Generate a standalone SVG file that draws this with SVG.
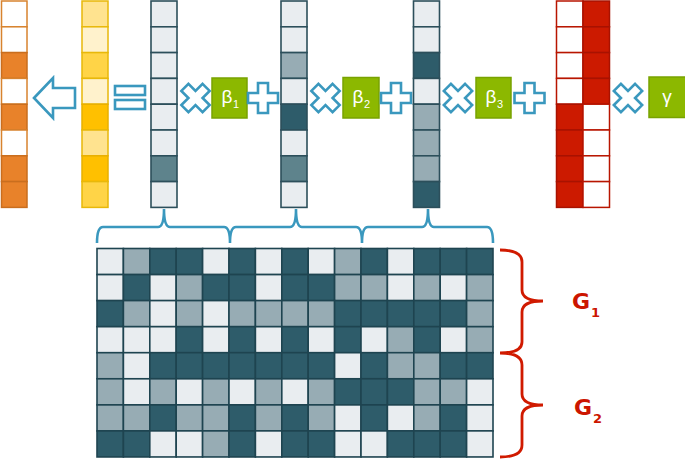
<svg xmlns="http://www.w3.org/2000/svg" width="685" height="461" viewBox="0 0 685 461">
<style>
.sym{fill:#fff;stroke:#3A98BE;stroke-width:2.6;stroke-linejoin:miter}
.br{fill:none;stroke:#3A98BE;stroke-width:2.6}
.rbr{fill:none;stroke:#D01A00;stroke-width:2.8}
.ow{fill:#fff;stroke:#D8832E;stroke-width:1.5}
.oo{fill:#E8822A;stroke:#C96E1E;stroke-width:1.5}
.y0{fill:#FFF2CC;stroke:#E8B80A;stroke-width:1.5}
.y1{fill:#FFE38F;stroke:#E8B80A;stroke-width:1.5}
.y2{fill:#FFD447;stroke:#E8B80A;stroke-width:1.5}
.y3{fill:#FFC000;stroke:#E8B000;stroke-width:1.5}
.vL{fill:#E9EDF0;stroke:#2C4F5B;stroke-width:1.6}
.vM{fill:#97ACB4;stroke:#2C4F5B;stroke-width:1.6}
.vD{fill:#2E5C6A;stroke:#2C4F5B;stroke-width:1.6}
.vX{fill:#5E838C;stroke:#2C4F5B;stroke-width:1.6}
.rw{fill:#fff;stroke:#B81500;stroke-width:1.5}
.rr{fill:#CC1A00;stroke:#A81200;stroke-width:1.5}
.L{fill:#E9EDF0;stroke:#1E4450;stroke-width:1.6}
.M{fill:#97ACB4;stroke:#1E4450;stroke-width:1.6}
.D{fill:#2E5C6A;stroke:#1E4450;stroke-width:1.6}
.gb{fill:#8CB800;stroke:#78A200;stroke-width:1.5}
.gt{fill:#fff;font-family:'Liberation Sans',Arial,sans-serif;font-size:19px}
.gs{fill:#fff;font-family:'Liberation Sans',Arial,sans-serif;font-size:11px}
.lab{fill:#CC1500;font-family:'DejaVu Sans',Verdana,sans-serif;font-weight:bold;font-size:22px}
.labs{fill:#CC1500;font-family:'DejaVu Sans',Verdana,sans-serif;font-weight:bold;font-size:13px}
</style>
<defs>
<path id="plus" d="M-5,-15 H5 V-5 H15 V5 H5 V15 H-5 V5 H-15 V-5 H-5 Z"/>
</defs>

<g id="result-orange">
<rect class="ow" x="1.5" y="1" width="25.5" height="25.8"/>
<rect class="ow" x="1.5" y="26.8" width="25.5" height="25.8"/>
<rect class="oo" x="1.5" y="52.6" width="25.5" height="25.8"/>
<rect class="ow" x="1.5" y="78.4" width="25.5" height="25.8"/>
<rect class="oo" x="1.5" y="104.2" width="25.5" height="25.8"/>
<rect class="ow" x="1.5" y="130" width="25.5" height="25.8"/>
<rect class="oo" x="1.5" y="155.8" width="25.5" height="25.8"/>
<rect class="oo" x="1.5" y="181.6" width="25.5" height="25.8"/>
</g>

<g id="arrow-left">
<polygon class="sym" points="34,98 53,78 53,88 75,88 75,108 53,108 53,118"/>
</g>

<g id="score-yellow">
<rect class="y1" x="82" y="1" width="26" height="25.8"/>
<rect class="y0" x="82" y="26.8" width="26" height="25.8"/>
<rect class="y2" x="82" y="52.6" width="26" height="25.8"/>
<rect class="y0" x="82" y="78.4" width="26" height="25.8"/>
<rect class="y3" x="82" y="104.2" width="26" height="25.8"/>
<rect class="y1" x="82" y="130" width="26" height="25.8"/>
<rect class="y3" x="82" y="155.8" width="26" height="25.8"/>
<rect class="y2" x="82" y="181.6" width="26" height="25.8"/>
</g>

<g id="equals">
<rect class="sym" x="115" y="86" width="30" height="9"/>
<rect class="sym" x="115" y="100" width="30" height="9"/>
</g>

<g id="vector-1">
<rect class="vL" x="151" y="1" width="26" height="25.8"/>
<rect class="vL" x="151" y="26.8" width="26" height="25.8"/>
<rect class="vL" x="151" y="52.6" width="26" height="25.8"/>
<rect class="vL" x="151" y="78.4" width="26" height="25.8"/>
<rect class="vL" x="151" y="104.2" width="26" height="25.8"/>
<rect class="vL" x="151" y="130" width="26" height="25.8"/>
<rect class="vX" x="151" y="155.8" width="26" height="25.8"/>
<rect class="vL" x="151" y="181.6" width="26" height="25.8"/>
</g>

<g id="times-1"><use href="#plus" class="sym" transform="translate(195.5,98) rotate(45)"/></g>
<g id="beta-1">
<rect class="gb" x="212" y="78" width="35" height="40"/>
<text class="gt" x="221.5" y="103">β</text><text class="gs" x="233" y="108">1</text>
</g>
<g id="plus-1"><use href="#plus" class="sym" transform="translate(263,98)"/></g>

<g id="vector-2">
<rect class="vL" x="281" y="1" width="26" height="25.8"/>
<rect class="vL" x="281" y="26.8" width="26" height="25.8"/>
<rect class="vM" x="281" y="52.6" width="26" height="25.8"/>
<rect class="vL" x="281" y="78.4" width="26" height="25.8"/>
<rect class="vD" x="281" y="104.2" width="26" height="25.8"/>
<rect class="vL" x="281" y="130" width="26" height="25.8"/>
<rect class="vX" x="281" y="155.8" width="26" height="25.8"/>
<rect class="vL" x="281" y="181.6" width="26" height="25.8"/>
</g>

<g id="times-2"><use href="#plus" class="sym" transform="translate(325.5,98) rotate(45)"/></g>
<g id="beta-2">
<rect class="gb" x="343" y="77.5" width="36" height="40.5"/>
<text class="gt" x="352.5" y="103">β</text><text class="gs" x="364" y="108">2</text>
</g>
<g id="plus-2"><use href="#plus" class="sym" transform="translate(396,98)"/></g>

<g id="vector-3">
<rect class="vL" x="413.5" y="1" width="26" height="25.8"/>
<rect class="vL" x="413.5" y="26.8" width="26" height="25.8"/>
<rect class="vD" x="413.5" y="52.6" width="26" height="25.8"/>
<rect class="vL" x="413.5" y="78.4" width="26" height="25.8"/>
<rect class="vM" x="413.5" y="104.2" width="26" height="25.8"/>
<rect class="vM" x="413.5" y="130" width="26" height="25.8"/>
<rect class="vM" x="413.5" y="155.8" width="26" height="25.8"/>
<rect class="vD" x="413.5" y="181.6" width="26" height="25.8"/>
</g>

<g id="times-3"><use href="#plus" class="sym" transform="translate(458,98) rotate(45)"/></g>
<g id="beta-3">
<rect class="gb" x="476" y="77.5" width="35" height="40.5"/>
<text class="gt" x="485.5" y="103">β</text><text class="gs" x="497" y="108">3</text>
</g>
<g id="plus-3"><use href="#plus" class="sym" transform="translate(529.5,98)"/></g>

<g id="groups-red">
<rect class="rw" x="556.5" y="1" width="26.5" height="25.8"/>
<rect class="rw" x="556.5" y="26.8" width="26.5" height="25.8"/>
<rect class="rw" x="556.5" y="52.6" width="26.5" height="25.8"/>
<rect class="rw" x="556.5" y="78.4" width="26.5" height="25.8"/>
<rect class="rr" x="556.5" y="104.2" width="26.5" height="25.8"/>
<rect class="rr" x="556.5" y="130" width="26.5" height="25.8"/>
<rect class="rr" x="556.5" y="155.8" width="26.5" height="25.8"/>
<rect class="rr" x="556.5" y="181.6" width="26.5" height="25.8"/>
<rect class="rr" x="583" y="1" width="26.5" height="25.8"/>
<rect class="rr" x="583" y="26.8" width="26.5" height="25.8"/>
<rect class="rr" x="583" y="52.6" width="26.5" height="25.8"/>
<rect class="rr" x="583" y="78.4" width="26.5" height="25.8"/>
<rect class="rw" x="583" y="104.2" width="26.5" height="25.8"/>
<rect class="rw" x="583" y="130" width="26.5" height="25.8"/>
<rect class="rw" x="583" y="155.8" width="26.5" height="25.8"/>
<rect class="rw" x="583" y="181.6" width="26.5" height="25.8"/>
</g>

<g id="times-4"><use href="#plus" class="sym" transform="translate(628,98) rotate(45)"/></g>
<g id="gamma">
<rect class="gb" x="649" y="77" width="37" height="40.5"/>
<text class="gt" x="667" y="103" text-anchor="middle">γ</text>
</g>

<g id="connectors">
<path class="br" d="M97,243 Q97,227 103,227 L158,227 Q164,227 164,209 Q164,227 170,227 L224,227 Q230,227 230,243 Q230,227 236,227 L290,227 Q296,227 296,209 Q296,227 302,227 L356,227 Q362,227 362,243 Q362,227 368,227 L422,227 Q428,227 428,209 Q428,227 434,227 L487,227 Q493,227 493,243"/>
<path class="rbr" d="M500,250 Q522,250 522,262 L522,290 Q522,301 543,301 Q522,301 522,312 L522,342 Q522,353 500,353 Q522,353 522,365 L522,394 Q522,405 543,405 Q522,405 522,416 L522,445 Q522,457 500,457"/>
</g>

<g id="matrix">
<rect x="97" y="248.5" width="396" height="208.5" fill="#1E4450"/>
<g id="row1">
<rect class="L" x="97" y="248.5" width="26.4" height="26.06"/><rect class="M" x="123.4" y="248.5" width="26.4" height="26.06"/><rect class="D" x="149.8" y="248.5" width="26.4" height="26.06"/><rect class="D" x="176.2" y="248.5" width="26.4" height="26.06"/><rect class="L" x="202.6" y="248.5" width="26.4" height="26.06"/><rect class="D" x="229" y="248.5" width="26.4" height="26.06"/><rect class="L" x="255.4" y="248.5" width="26.4" height="26.06"/><rect class="D" x="281.8" y="248.5" width="26.4" height="26.06"/><rect class="L" x="308.2" y="248.5" width="26.4" height="26.06"/><rect class="M" x="334.6" y="248.5" width="26.4" height="26.06"/><rect class="D" x="361" y="248.5" width="26.4" height="26.06"/><rect class="L" x="387.4" y="248.5" width="26.4" height="26.06"/><rect class="D" x="413.8" y="248.5" width="26.4" height="26.06"/><rect class="D" x="440.2" y="248.5" width="26.4" height="26.06"/><rect class="D" x="466.6" y="248.5" width="26.4" height="26.06"/>
</g>
<g id="row2">
<rect class="L" x="97" y="274.6" width="26.4" height="26.06"/><rect class="D" x="123.4" y="274.6" width="26.4" height="26.06"/><rect class="L" x="149.8" y="274.6" width="26.4" height="26.06"/><rect class="M" x="176.2" y="274.6" width="26.4" height="26.06"/><rect class="D" x="202.6" y="274.6" width="26.4" height="26.06"/><rect class="D" x="229" y="274.6" width="26.4" height="26.06"/><rect class="L" x="255.4" y="274.6" width="26.4" height="26.06"/><rect class="D" x="281.8" y="274.6" width="26.4" height="26.06"/><rect class="D" x="308.2" y="274.6" width="26.4" height="26.06"/><rect class="M" x="334.6" y="274.6" width="26.4" height="26.06"/><rect class="M" x="361" y="274.6" width="26.4" height="26.06"/><rect class="L" x="387.4" y="274.6" width="26.4" height="26.06"/><rect class="M" x="413.8" y="274.6" width="26.4" height="26.06"/><rect class="L" x="440.2" y="274.6" width="26.4" height="26.06"/><rect class="M" x="466.6" y="274.6" width="26.4" height="26.06"/>
</g>
<g id="row3">
<rect class="D" x="97" y="300.6" width="26.4" height="26.06"/><rect class="M" x="123.4" y="300.6" width="26.4" height="26.06"/><rect class="L" x="149.8" y="300.6" width="26.4" height="26.06"/><rect class="M" x="176.2" y="300.6" width="26.4" height="26.06"/><rect class="L" x="202.6" y="300.6" width="26.4" height="26.06"/><rect class="M" x="229" y="300.6" width="26.4" height="26.06"/><rect class="M" x="255.4" y="300.6" width="26.4" height="26.06"/><rect class="M" x="281.8" y="300.6" width="26.4" height="26.06"/><rect class="M" x="308.2" y="300.6" width="26.4" height="26.06"/><rect class="D" x="334.6" y="300.6" width="26.4" height="26.06"/><rect class="D" x="361" y="300.6" width="26.4" height="26.06"/><rect class="D" x="387.4" y="300.6" width="26.4" height="26.06"/><rect class="D" x="413.8" y="300.6" width="26.4" height="26.06"/><rect class="D" x="440.2" y="300.6" width="26.4" height="26.06"/><rect class="M" x="466.6" y="300.6" width="26.4" height="26.06"/>
</g>
<g id="row4">
<rect class="L" x="97" y="326.7" width="26.4" height="26.06"/><rect class="L" x="123.4" y="326.7" width="26.4" height="26.06"/><rect class="L" x="149.8" y="326.7" width="26.4" height="26.06"/><rect class="D" x="176.2" y="326.7" width="26.4" height="26.06"/><rect class="L" x="202.6" y="326.7" width="26.4" height="26.06"/><rect class="D" x="229" y="326.7" width="26.4" height="26.06"/><rect class="L" x="255.4" y="326.7" width="26.4" height="26.06"/><rect class="D" x="281.8" y="326.7" width="26.4" height="26.06"/><rect class="L" x="308.2" y="326.7" width="26.4" height="26.06"/><rect class="D" x="334.6" y="326.7" width="26.4" height="26.06"/><rect class="L" x="361" y="326.7" width="26.4" height="26.06"/><rect class="M" x="387.4" y="326.7" width="26.4" height="26.06"/><rect class="D" x="413.8" y="326.7" width="26.4" height="26.06"/><rect class="L" x="440.2" y="326.7" width="26.4" height="26.06"/><rect class="M" x="466.6" y="326.7" width="26.4" height="26.06"/>
</g>
<g id="row5">
<rect class="M" x="97" y="352.7" width="26.4" height="26.06"/><rect class="L" x="123.4" y="352.7" width="26.4" height="26.06"/><rect class="D" x="149.8" y="352.7" width="26.4" height="26.06"/><rect class="D" x="176.2" y="352.7" width="26.4" height="26.06"/><rect class="D" x="202.6" y="352.7" width="26.4" height="26.06"/><rect class="D" x="229" y="352.7" width="26.4" height="26.06"/><rect class="D" x="255.4" y="352.7" width="26.4" height="26.06"/><rect class="D" x="281.8" y="352.7" width="26.4" height="26.06"/><rect class="D" x="308.2" y="352.7" width="26.4" height="26.06"/><rect class="L" x="334.6" y="352.7" width="26.4" height="26.06"/><rect class="D" x="361" y="352.7" width="26.4" height="26.06"/><rect class="M" x="387.4" y="352.7" width="26.4" height="26.06"/><rect class="M" x="413.8" y="352.7" width="26.4" height="26.06"/><rect class="D" x="440.2" y="352.7" width="26.4" height="26.06"/><rect class="D" x="466.6" y="352.7" width="26.4" height="26.06"/>
</g>
<g id="row6">
<rect class="M" x="97" y="378.8" width="26.4" height="26.06"/><rect class="L" x="123.4" y="378.8" width="26.4" height="26.06"/><rect class="M" x="149.8" y="378.8" width="26.4" height="26.06"/><rect class="L" x="176.2" y="378.8" width="26.4" height="26.06"/><rect class="M" x="202.6" y="378.8" width="26.4" height="26.06"/><rect class="L" x="229" y="378.8" width="26.4" height="26.06"/><rect class="M" x="255.4" y="378.8" width="26.4" height="26.06"/><rect class="L" x="281.8" y="378.8" width="26.4" height="26.06"/><rect class="M" x="308.2" y="378.8" width="26.4" height="26.06"/><rect class="D" x="334.6" y="378.8" width="26.4" height="26.06"/><rect class="D" x="361" y="378.8" width="26.4" height="26.06"/><rect class="D" x="387.4" y="378.8" width="26.4" height="26.06"/><rect class="M" x="413.8" y="378.8" width="26.4" height="26.06"/><rect class="M" x="440.2" y="378.8" width="26.4" height="26.06"/><rect class="L" x="466.6" y="378.8" width="26.4" height="26.06"/>
</g>
<g id="row7">
<rect class="M" x="97" y="404.9" width="26.4" height="26.06"/><rect class="M" x="123.4" y="404.9" width="26.4" height="26.06"/><rect class="D" x="149.8" y="404.9" width="26.4" height="26.06"/><rect class="M" x="176.2" y="404.9" width="26.4" height="26.06"/><rect class="M" x="202.6" y="404.9" width="26.4" height="26.06"/><rect class="D" x="229" y="404.9" width="26.4" height="26.06"/><rect class="M" x="255.4" y="404.9" width="26.4" height="26.06"/><rect class="D" x="281.8" y="404.9" width="26.4" height="26.06"/><rect class="M" x="308.2" y="404.9" width="26.4" height="26.06"/><rect class="L" x="334.6" y="404.9" width="26.4" height="26.06"/><rect class="D" x="361" y="404.9" width="26.4" height="26.06"/><rect class="L" x="387.4" y="404.9" width="26.4" height="26.06"/><rect class="M" x="413.8" y="404.9" width="26.4" height="26.06"/><rect class="D" x="440.2" y="404.9" width="26.4" height="26.06"/><rect class="L" x="466.6" y="404.9" width="26.4" height="26.06"/>
</g>
<g id="row8">
<rect class="D" x="97" y="430.9" width="26.4" height="26.06"/><rect class="D" x="123.4" y="430.9" width="26.4" height="26.06"/><rect class="L" x="149.8" y="430.9" width="26.4" height="26.06"/><rect class="L" x="176.2" y="430.9" width="26.4" height="26.06"/><rect class="M" x="202.6" y="430.9" width="26.4" height="26.06"/><rect class="D" x="229" y="430.9" width="26.4" height="26.06"/><rect class="L" x="255.4" y="430.9" width="26.4" height="26.06"/><rect class="D" x="281.8" y="430.9" width="26.4" height="26.06"/><rect class="D" x="308.2" y="430.9" width="26.4" height="26.06"/><rect class="L" x="334.6" y="430.9" width="26.4" height="26.06"/><rect class="L" x="361" y="430.9" width="26.4" height="26.06"/><rect class="D" x="387.4" y="430.9" width="26.4" height="26.06"/><rect class="D" x="413.8" y="430.9" width="26.4" height="26.06"/><rect class="D" x="440.2" y="430.9" width="26.4" height="26.06"/><rect class="L" x="466.6" y="430.9" width="26.4" height="26.06"/>
</g>
</g>

<g id="label-G1"><text class="lab" x="572" y="309">G</text><text class="labs" x="591" y="317">1</text></g>
<g id="label-G2"><text class="lab" x="574" y="415">G</text><text class="labs" x="593" y="423">2</text></g>
</svg>
